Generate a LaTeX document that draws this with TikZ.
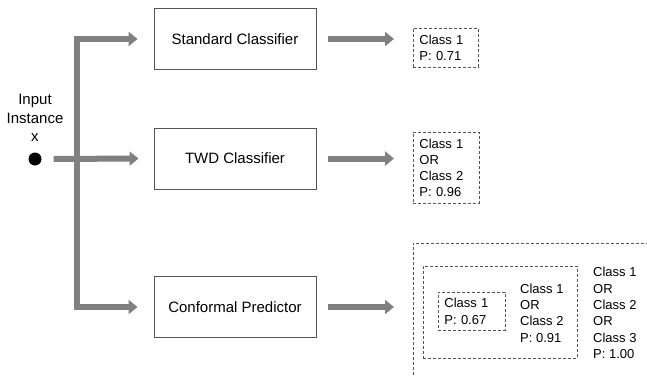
\documentclass[tikz,border=0pt]{standalone}
\usepackage{fontspec}
\setmainfont{Liberation Sans}
\usetikzlibrary{arrows.meta}
\definecolor{flowgray}{RGB}{128,128,128}
\definecolor{boxgray}{RGB}{85,85,85}
\begin{document}
\begin{tikzpicture}[x=1pt,y=-1pt,
  procbox/.style={draw=boxgray,line width=0.9pt,fill=white,minimum width=162pt,minimum height=61pt,inner sep=0pt,font=\fontsize{15}{18}\selectfont},
  outbox/.style={draw=boxgray,line width=0.8pt,dash pattern=on 3pt off 2pt,inner xsep=6pt,inner ysep=0pt,align=left,anchor=north west,font=\fontsize{13}{16.3}\selectfont},
  outtext/.style={inner sep=0pt,align=left,anchor=west,font=\fontsize{13}{16.3}\selectfont},
  flow/.style={draw=flowgray,line width=6pt,line join=miter},
  tip/.style={-{Triangle[length=9pt,width=14pt]}}
]
\useasboundingbox (0,0) rectangle (647,375);
% input
\node[circle,fill=black,minimum size=13pt,inner sep=0pt] (dot) at (35,159) {};
\node[align=center,inner sep=0pt,font=\fontsize{15}{18.5}\selectfont] (inlabel) at (35,118) {Input\\Instance\\x};
% classifiers
\node[procbox] (std) at (235,39) {Standard Classifier};
\node[procbox] (twd) at (235,158.5) {TWD Classifier};
\node[procbox] (conf) at (235,307) {Conformal Predictor};
% branching connector
\coordinate (jt) at (76.5,39);
\coordinate (jb) at (76.5,307);
\draw[flow,{Triangle[length=9pt,width=14pt]}-{Triangle[length=9pt,width=14pt]}]
  ([xshift=-16pt]std.west) -- (jt) -- (jb) -- ([xshift=-16pt]conf.west);
\draw[flow,tip] ([xshift=12pt]dot.east) -- ([xshift=-15pt]twd.west);
% outputs
\node[outbox,minimum width=65pt,minimum height=39pt,text width=53pt] (o1) at (413,28) {Class 1\\P: 0.71};
\node[outbox,minimum width=66pt,minimum height=71pt,text width=54pt] (o2) at (413,132) {Class 1\\OR\\Class 2\\P: 0.96};
\draw[flow,tip] ([xshift=12pt]std.east) -- ([xshift=-19pt]o1.west |- std.east);
\draw[flow,tip] ([xshift=12pt]twd.east) -- ([xshift=-19pt]o2.west |- twd.east);
% conformal outputs
\draw[draw=boxgray,line width=0.8pt,dash pattern=on 3pt off 2pt] (413,375) -- (413,243) -- (647,243);
\coordinate (bigleft) at (413,307);
\draw[flow,tip] ([xshift=12pt]conf.east) -- ([xshift=-19pt]bigleft);
\node[draw=boxgray,line width=0.8pt,dash pattern=on 3pt off 2pt,minimum width=154pt,minimum height=92pt,inner sep=0pt] (mid) at (500,312) {};
\node[outbox,minimum width=67pt,minimum height=38pt,text width=55pt,inner xsep=6pt] (o3) at (438,292) {Class 1\\P: 0.67};
\node[outtext] (t2) at (520,313) {Class 1\\OR\\Class 2\\P: 0.91};
\node[outtext] (t3) at (593,313) {Class 1\\OR\\Class 2\\OR\\Class 3\\P: 1.00};
\end{tikzpicture}
\end{document}
